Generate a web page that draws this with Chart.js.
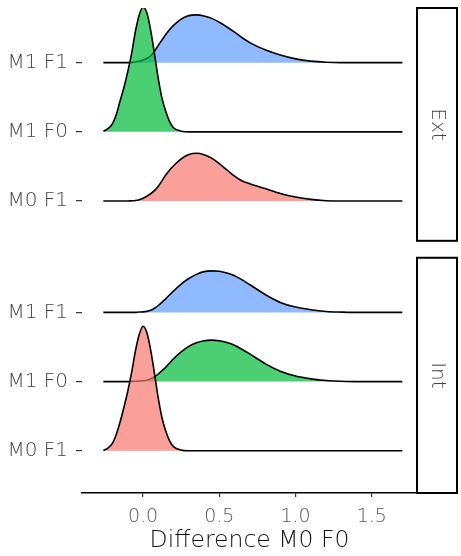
<!DOCTYPE html>
<html>
<head>
<meta charset="utf-8">
<script src="https://cdn.jsdelivr.net/npm/chart.js@4.4.1/dist/chart.umd.min.js"></script>
<style>
  html, body { margin: 0; padding: 0; background: #fff; }
  #wrap { width: 461px; height: 556px; position: relative; }
</style>
</head>
<body>
<div id="wrap"><canvas id="c" width="461" height="556"></canvas></div>
<script>
// ---------- data ----------
const facets = ['Ext', 'Int'];
const categories = ['M0 F1', 'M1 F0', 'M1 F1'];
const xTicks = [0.0, 0.5, 1.0, 1.5];
const xTitle = 'Difference M0 F0';

// x positions of the density estimates
const xGrid = [-0.26, -0.23, -0.2, -0.175, -0.15, -0.125, -0.1, -0.075, -0.05, -0.025, 0, 0.025, 0.05, 0.075, 0.1,
  0.125, 0.15, 0.175, 0.2, 0.25, 0.3, 0.35, 0.4, 0.45, 0.5, 0.55, 0.6, 0.65, 0.7, 0.8, 0.9,
  1.0, 1.1, 1.2, 1.3, 1.4, 1.5, 1.6, 1.7];

// ridge heights (scaled density) per facet / category
const extM1F1 = [0, 0, 0, 0, 0, 0, 0, 0.004, 0.01, 0.02, 0.037, 0.062, 0.10, 0.165, 0.25,
  0.33, 0.41, 0.48, 0.54, 0.63, 0.68, 0.69, 0.675, 0.64, 0.585, 0.515, 0.44, 0.36, 0.29, 0.185, 0.11,
  0.055, 0.022, 0.006, 0, 0, 0, 0, 0];
const extM1F0 = [0.01, 0.045, 0.12, 0.25, 0.45, 0.64, 0.87, 1.13, 1.45, 1.69, 1.80, 1.72, 1.47, 1.13, 0.77,
  0.48, 0.29, 0.145, 0.06, 0.01, 0, 0, 0, 0, 0, 0, 0, 0, 0, 0, 0,
  0, 0, 0, 0, 0, 0, 0, 0];
const extM0F1 = [0, 0, 0, 0, 0, 0, 0, 0.003, 0.008, 0.02, 0.04, 0.07, 0.105, 0.15, 0.215,
  0.295, 0.38, 0.45, 0.51, 0.61, 0.672, 0.69, 0.67, 0.62, 0.54, 0.45, 0.36, 0.29, 0.25, 0.18, 0.11,
  0.058, 0.024, 0.005, 0, 0, 0, 0, 0];
const intM1F1 = [0, 0, 0, 0, 0, 0, 0, 0, 0, 0.005, 0.008, 0.015, 0.03, 0.06, 0.10,
  0.15, 0.20, 0.255, 0.31, 0.41, 0.49, 0.55, 0.59, 0.60, 0.595, 0.57, 0.53, 0.47, 0.40, 0.26, 0.145,
  0.077, 0.039, 0.014, 0.005, 0, 0, 0, 0];
const intM1F0 = [0, 0, 0, 0, 0, 0, 0, 0.003, 0.005, 0.008, 0.012, 0.02, 0.04, 0.07, 0.11,
  0.16, 0.21, 0.27, 0.33, 0.43, 0.51, 0.56, 0.59, 0.60, 0.59, 0.565, 0.525, 0.465, 0.40, 0.26, 0.15,
  0.08, 0.04, 0.015, 0.005, 0, 0, 0, 0];
const intM0F1 = [0.005, 0.04, 0.11, 0.24, 0.42, 0.63, 0.86, 1.13, 1.44, 1.68, 1.80, 1.71, 1.46, 1.12, 0.76,
  0.47, 0.28, 0.14, 0.06, 0.01, 0, 0, 0, 0, 0, 0, 0, 0, 0, 0, 0,
  0, 0, 0, 0, 0, 0, 0, 0];

// ---------- layout (positions, not data) ----------
const rowPos = { Int: [0, 1, 2], Ext: [3.61, 4.61, 5.61] };
const panelBounds = { Ext: [3.035, 6.40], Int: [-0.61, 2.79] };
const yRange = [-0.61, 6.40];
const xRange = [-0.40, 1.796];
const stripWidth = 40;
const colors = {
  'M0 F1': 'rgba(248,118,109,0.7)',
  'M1 F0': 'rgba(0,186,56,0.7)',
  'M1 F1': 'rgba(97,156,255,0.7)'
};
const FONT = 'DejaVu Sans';

const series = {
  Ext: { 'M1 F1': extM1F1, 'M1 F0': extM1F0, 'M0 F1': extM0F1 },
  Int: { 'M1 F1': intM1F1, 'M1 F0': intM1F0, 'M0 F1': intM0F1 }
};

// build datasets: upper rows first (drawn underneath), lower rows on top
const datasets = [];
let ord = 10;
facets.forEach(f => {
  ['M1 F1', 'M1 F0', 'M0 F1'].forEach(cat => {
    const base = rowPos[f][categories.indexOf(cat)];
    const h = series[f][cat];
    datasets.push({
      label: f + ' ' + cat,
      data: xGrid.map((x, i) => ({ x: x, y: base + h[i] })),
      backgroundColor: colors[cat],
      borderColor: '#000',
      borderWidth: 1.6,
      pointRadius: 0,
      cubicInterpolationMode: 'monotone',
      fill: { value: base },
      order: ord--
    });
  });
});

const tickLabelMap = {};
facets.forEach(f => rowPos[f].forEach((v, i) => { tickLabelMap[v.toFixed(3)] = categories[i]; }));

const stripPlugin = {
  id: 'strips',
  afterDraw(chart) {
    const ctx = chart.ctx, ya = chart.scales.y, ca = chart.chartArea;
    ctx.save();
    facets.forEach(f => {
      const top = ya.getPixelForValue(panelBounds[f][1]);
      const bot = ya.getPixelForValue(panelBounds[f][0]);
      const left = ca.right;
      ctx.fillStyle = '#fff';
      ctx.fillRect(left, top, stripWidth, bot - top);
      ctx.strokeStyle = '#000';
      ctx.lineWidth = 2;
      ctx.strokeRect(left, top, stripWidth, bot - top);
      ctx.translate(left + stripWidth / 2, (top + bot) / 2);
      ctx.rotate(Math.PI / 2);
      ctx.fillStyle = '#444';
      ctx.font = '200 20px "' + FONT + '"';
      ctx.textAlign = 'center';
      ctx.textBaseline = 'middle';
      ctx.fillText(f, 0, 0);
      ctx.setTransform(1, 0, 0, 1, 0, 0);
    });
    ctx.restore();
  }
};

new Chart(document.getElementById('c'), {
  type: 'line',
  data: { datasets },
  options: {
    responsive: false,
    animation: false,
    events: [],
    layout: { padding: { top: 8, right: 44, left: 0, bottom: 0 } },
    plugins: { legend: { display: false }, tooltip: { enabled: false } },
    scales: {
      x: {
        type: 'linear',
        min: xRange[0], max: xRange[1],
        afterBuildTicks: s => { s.ticks = xTicks.map(v => ({ value: v })); },
        afterFit: s => { s.height = 63; s.paddingLeft = 0; s.paddingRight = 0; },
        ticks: {
          callback: v => Number(v).toFixed(1),
          color: '#555',
          font: { family: FONT, size: 19, weight: '200' },
          padding: 9,
          maxRotation: 0
        },
        grid: { display: true, drawOnChartArea: false, drawTicks: true, tickLength: 4, color: '#333', lineWidth: 1.2 },
        border: { display: true, color: '#000', width: 1.5 },
        title: {
          display: true, text: xTitle, color: '#111',
          font: { family: FONT, size: 23.5, weight: '200', lineHeight: 1.2 },
          padding: { top: 0, bottom: 1 }
        }
      },
      y: {
        type: 'linear',
        min: yRange[0], max: yRange[1],
        afterBuildTicks: s => {
          const t = [];
          facets.forEach(f => rowPos[f].forEach(v => t.push({ value: v })));
          s.ticks = t;
        },
        afterFit: s => { s.width = 82; s.paddingTop = 0; s.paddingBottom = 0; },
        ticks: {
          callback: v => tickLabelMap[Number(v).toFixed(3)] || '',
          color: '#444',
          font: { family: FONT, size: 20, weight: '200' },
          padding: 8,
          autoSkip: false
        },
        grid: { display: true, drawOnChartArea: false, drawTicks: true, tickLength: 6, color: '#333', lineWidth: 1.2 },
        border: { display: false }
      }
    }
  },
  plugins: [stripPlugin]
});
</script>
</body>
</html>
